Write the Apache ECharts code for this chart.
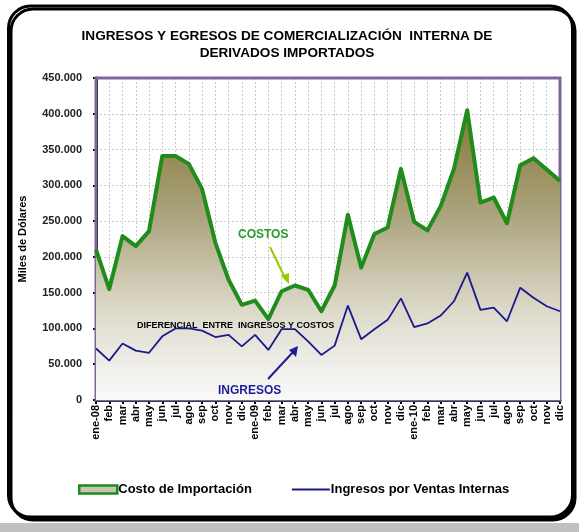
<!DOCTYPE html>
<html><head><meta charset="utf-8">
<script src="https://cdn.jsdelivr.net/npm/echarts@6/dist/echarts.min.js"></script>
<style>html,body{margin:0;padding:0;background:#fff}#c{width:579px;height:532px}</style>
</head><body><div id="c"></div>
<script>
const categories = ['ene-08','feb','mar','abr','may','jun','jul','ago','sep','oct','nov','dic',
  'ene-09','feb','mar','abr','may','jun','jul','ago','sep','oct','nov','dic',
  'ene-10','feb','mar','abr','may','jun','jul','ago','sep','oct','nov','dic'];
const costos = [210,155,229,215,236,341,341,330,295,220,168,133,
  139,113,152,160,154,124,160,259,185,232,241,323,
  249,237,271,323,405,276,283,247,328,338,322,306];
const ingresos = [72,55,79,69,66,89,100,100,97,88,91,75,
  91,70,99,99,82,63,76,132,85,99,112,142,
  102,107,118,138,178,126,129,110,157,143,131,124];
const yTicks = [0,50,100,150,200,250,300,350,400,450];
const font = 'Arial, "Liberation Sans", sans-serif';
const chart = echarts.init(document.getElementById('c'), null, {renderer:'canvas'});
function fmt(v){ return v===0 ? '0' : v + '.000'; }
chart.setOption({
  animation:false,
  title:{text:'INGRESOS Y EGRESOS DE COMERCIALIZACIÓN  INTERNA DE\nDERIVADOS IMPORTADOS', left:282, textAlign:'center', top:23,
    textStyle:{fontFamily:font, fontSize:13.6, fontWeight:'bold', color:'#000', lineHeight:17}},
  grid:{left:96, right:19, top:78, bottom:132, show:true, borderColor:'#8064a2', borderWidth:3, backgroundColor:'transparent', z:3},
  legend:{bottom:31, left:73, itemGap:40, selectedMode:false,
    textStyle:{fontFamily:font, fontSize:13, fontWeight:'bold', color:'#000', padding:[0,0,0,-4]},
    data:[
      {name:'Costo de Importación', icon:'rect', itemStyle:{color:'#c9c6b0', borderColor:'#1e8a1e', borderWidth:2.5}},
      {name:'Ingresos por Ventas Internas', icon:'path://M0,0 L40,0 L40,2 L0,2 Z', itemStyle:{color:'#1a1a8c'}}
    ],
    itemWidth:38, itemHeight:8},
  xAxis:{type:'category', data:categories, boundaryGap:false,
    axisLine:{lineStyle:{color:'#000', width:3}, z:10},
    axisTick:{show:true, length:4, lineStyle:{color:'#000', width:2}, alignWithLabel:true},
    axisLabel:{rotate:90, interval:0, fontFamily:font, fontSize:11, fontWeight:'bold', color:'#000', margin:5},
    splitLine:{show:true, lineStyle:{color:'#c8c8c8', type:[2,2], width:1}}},
  yAxis:{type:'value', min:0, max:450, interval:50,
    name:'Miles de Dólares', nameLocation:'middle', nameGap:68, nameRotate:90,
    nameTextStyle:{fontFamily:font, fontSize:11, fontWeight:'bold', color:'#000'},
    axisLine:{show:true, lineStyle:{color:'#000', width:3}},
    axisTick:{show:true, length:3, inside:false, lineStyle:{color:'#000', width:2}},
    axisLabel:{formatter:fmt, fontFamily:font, fontSize:11, fontWeight:'bold', color:'#222', margin:14},
    splitLine:{show:true, lineStyle:{color:'#c8c8c8', type:[2,2], width:1}}},
  series:[
    {name:'Costo de Importación', type:'line', data:costos, symbol:'none', z:4,
      lineStyle:{color:'#1f8c1c', width:4, join:'round'},
      itemStyle:{color:'#1f8c1c'},
      areaStyle:{opacity:1, color:new echarts.graphic.LinearGradient(0,0,0,1,[
        {offset:0, color:'#857838'},{offset:0.35,color:'#aaa27a'},{offset:0.7,color:'#dedbcc'},{offset:1,color:'#fafafa'}])}},
    {name:'Ingresos por Ventas Internas', type:'line', data:ingresos, symbol:'none', z:5,
      lineStyle:{color:'#1a1a8c', width:1.8}, itemStyle:{color:'#1a1a8c'}}
  ],
  graphic:[
    {type:'rect', z:-10, silent:true, shape:{x:0,y:523,width:579,height:9}, style:{fill:'#c0c0c0'}},
    {type:'rect', z:-5, silent:true, shape:{x:8.5,y:6,width:564,height:511,r:22},
      style:{fill:'#fff', stroke:'#000', lineWidth:3, shadowColor:'#000', shadowOffsetX:2.5, shadowOffsetY:3, shadowBlur:0}},
    {type:'text', z:20, left:238, top:229, style:{text:'COSTOS', fill:'#2a9a2a', font:'bold 12px '+font}},
    {type:'line', z:20, shape:{x1:270,y1:247,x2:286,y2:280}, style:{stroke:'#99cc00', lineWidth:2}},
    {type:'polygon', z:20, shape:{points:[[289,284],[281,276],[289,273]]}, style:{fill:'#99cc00'}},
    {type:'text', z:20, left:137, top:321, style:{text:'DIFERENCIAL  ENTRE  INGRESOS Y COSTOS', fill:'#000', font:'bold 9px '+font}},
    {type:'text', z:20, left:218, top:385, style:{text:'INGRESOS', fill:'#1c1c9c', font:'bold 12px '+font}},
    {type:'line', z:20, shape:{x1:268,y1:379,x2:294,y2:351}, style:{stroke:'#1c1c9c', lineWidth:2}},
    {type:'polygon', z:20, shape:{points:[[298,346],[289,350],[296,357]]}, style:{fill:'#1c1c9c'}}
  ]
});
</script></body></html>
